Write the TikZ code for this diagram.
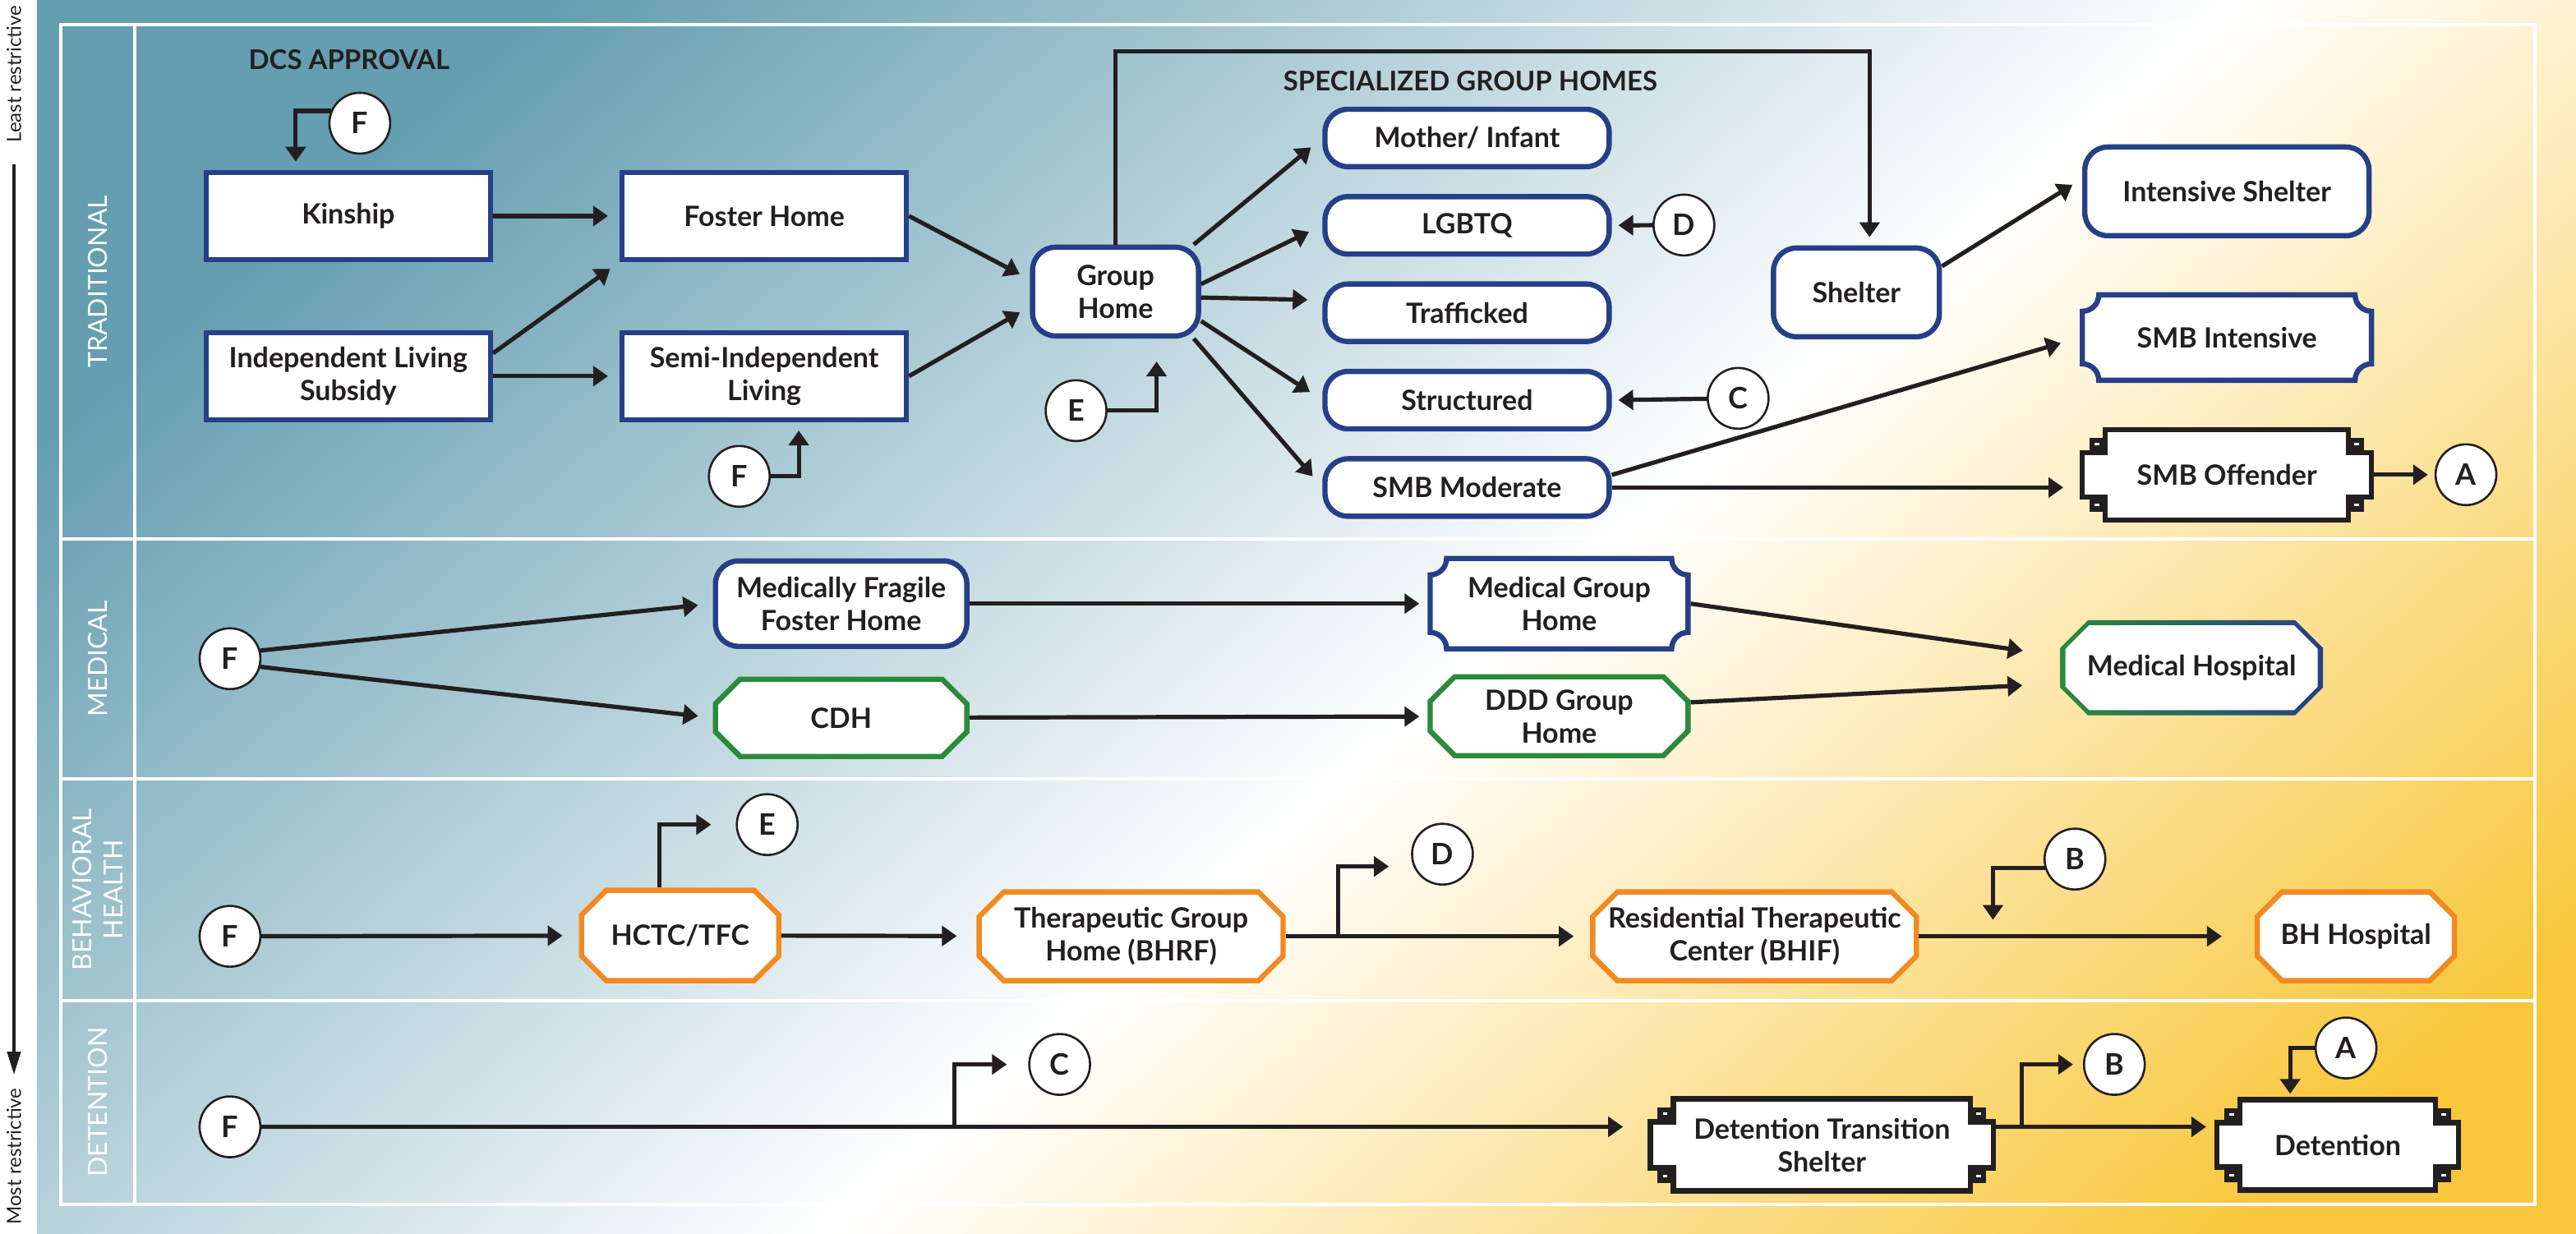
\documentclass[tikz,border=0pt]{standalone}
\usepackage{fontspec}
\setmainfont{Lato}
\usetikzlibrary{positioning,arrows.meta}

\definecolor{navyb}{HTML}{263F87}
\definecolor{greenb}{HTML}{2C8A3C}
\definecolor{orangeb}{HTML}{F18A21}
\definecolor{inkc}{HTML}{231F20}
\definecolor{tealbg}{HTML}{649EB0}
\definecolor{goldbg}{HTML}{F8C73B}

\pgfdeclarehorizontalshading{panelshade}{100bp}{color(0bp)=(tealbg); color(33bp)=(tealbg); color(51bp)=(white); color(66bp)=(goldbg); color(100bp)=(goldbg)}

% node outlines: cut corners, hollow corners, key corners
\makeatletter
\newdimen\shpxa \newdimen\shpya \newdimen\shpxb \newdimen\shpyb
\newdimen\shpc \newdimen\shpbx \newdimen\shpby \newdimen\shpbz \newdimen\shpbw
\pgfkeys{/pgf/corner size/.initial=8pt}
\def\shp@frame{%
  \southwest \shpxa=\pgf@x \shpya=\pgf@y
  \northeast \shpxb=\pgf@x \shpyb=\pgf@y
  \pgfmathsetlength\pgf@xc{\pgfkeysvalueof{/pgf/outer xsep}}%
  \pgfmathsetlength\pgf@yc{\pgfkeysvalueof{/pgf/outer ysep}}%
  \advance\shpxa by\pgf@xc \advance\shpxb by-\pgf@xc
  \advance\shpya by\pgf@yc \advance\shpyb by-\pgf@yc
  \pgfmathsetlength\shpc{\pgfkeysvalueof{/pgf/corner size}}}
\def\shp@pt#1#2{\pgfqpoint{\dimexpr#1\relax}{\dimexpr#2\relax}}
\pgfdeclareshape{octo}{%
  \inheritsavedanchors[from=rectangle]%
  \inheritanchorborder[from=rectangle]%
  \inheritanchor[from=rectangle]{center}%
  \inheritanchor[from=rectangle]{north}%
  \inheritanchor[from=rectangle]{south}%
  \inheritanchor[from=rectangle]{east}%
  \inheritanchor[from=rectangle]{west}%
  \inheritanchor[from=rectangle]{north east}%
  \inheritanchor[from=rectangle]{north west}%
  \inheritanchor[from=rectangle]{south east}%
  \inheritanchor[from=rectangle]{south west}%
  \backgroundpath{%
    \shp@frame
    \pgfpathmoveto{\shp@pt{\shpxa+\shpc}{\shpya}}%
    \pgfpathlineto{\shp@pt{\shpxb-\shpc}{\shpya}}%
    \pgfpathlineto{\shp@pt{\shpxb}{\shpya+\shpc}}%
    \pgfpathlineto{\shp@pt{\shpxb}{\shpyb-\shpc}}%
    \pgfpathlineto{\shp@pt{\shpxb-\shpc}{\shpyb}}%
    \pgfpathlineto{\shp@pt{\shpxa+\shpc}{\shpyb}}%
    \pgfpathlineto{\shp@pt{\shpxa}{\shpyb-\shpc}}%
    \pgfpathlineto{\shp@pt{\shpxa}{\shpya+\shpc}}%
    \pgfpathclose}%
}
\pgfdeclareshape{scallop}{%
  \inheritsavedanchors[from=rectangle]%
  \inheritanchorborder[from=rectangle]%
  \inheritanchor[from=rectangle]{center}%
  \inheritanchor[from=rectangle]{north}%
  \inheritanchor[from=rectangle]{south}%
  \inheritanchor[from=rectangle]{east}%
  \inheritanchor[from=rectangle]{west}%
  \inheritanchor[from=rectangle]{north east}%
  \inheritanchor[from=rectangle]{north west}%
  \inheritanchor[from=rectangle]{south east}%
  \inheritanchor[from=rectangle]{south west}%
  \backgroundpath{%
    \shp@frame
    \pgfpathmoveto{\shp@pt{\shpxa+\shpc}{\shpya}}%
    \pgfpathlineto{\shp@pt{\shpxb-\shpc}{\shpya}}%
    \pgfpatharc{180}{90}{\the\shpc}%
    \pgfpathlineto{\shp@pt{\shpxb}{\shpyb-\shpc}}%
    \pgfpatharc{270}{180}{\the\shpc}%
    \pgfpathlineto{\shp@pt{\shpxa+\shpc}{\shpyb}}%
    \pgfpatharc{0}{-90}{\the\shpc}%
    \pgfpathlineto{\shp@pt{\shpxa}{\shpya+\shpc}}%
    \pgfpatharc{90}{0}{\the\shpc}%
    \pgfpathclose}%
}
\pgfdeclareshape{keyrect}{%
  \inheritsavedanchors[from=rectangle]%
  \inheritanchorborder[from=rectangle]%
  \inheritanchor[from=rectangle]{center}%
  \inheritanchor[from=rectangle]{north}%
  \inheritanchor[from=rectangle]{south}%
  \inheritanchor[from=rectangle]{east}%
  \inheritanchor[from=rectangle]{west}%
  \inheritanchor[from=rectangle]{north east}%
  \inheritanchor[from=rectangle]{north west}%
  \inheritanchor[from=rectangle]{south east}%
  \inheritanchor[from=rectangle]{south west}%
  \backgroundpath{%
    \shp@frame
    \shpbx=0.86\shpc \shpby=0.43\shpc \shpbz=0.47\shpc \shpbw=0.81\shpc
    \pgfpathmoveto{\shp@pt{\shpxa+\shpc}{\shpyb}}%
    \pgfpathlineto{\shp@pt{\shpxb-\shpc}{\shpyb}}%
    \pgfpathlineto{\shp@pt{\shpxb-\shpc}{\shpyb-\shpc}}%
    \pgfpathlineto{\shp@pt{\shpxb}{\shpyb-\shpc}}%
    \pgfpathlineto{\shp@pt{\shpxb}{\shpya+\shpc}}%
    \pgfpathlineto{\shp@pt{\shpxb-\shpc}{\shpya+\shpc}}%
    \pgfpathlineto{\shp@pt{\shpxb-\shpc}{\shpya}}%
    \pgfpathlineto{\shp@pt{\shpxa+\shpc}{\shpya}}%
    \pgfpathlineto{\shp@pt{\shpxa+\shpc}{\shpya+\shpc}}%
    \pgfpathlineto{\shp@pt{\shpxa}{\shpya+\shpc}}%
    \pgfpathlineto{\shp@pt{\shpxa}{\shpyb-\shpc}}%
    \pgfpathlineto{\shp@pt{\shpxa+\shpc}{\shpyb-\shpc}}%
    \pgfpathclose
    \pgfpathrectanglecorners{\shp@pt{\shpxb-\shpbx}{\shpyb-\shpbw}}{\shp@pt{\shpxb-\shpby}{\shpyb-\shpbz}}%
    \pgfpathrectanglecorners{\shp@pt{\shpxa+\shpby}{\shpyb-\shpbw}}{\shp@pt{\shpxa+\shpbx}{\shpyb-\shpbz}}%
    \pgfpathrectanglecorners{\shp@pt{\shpxb-\shpbx}{\shpya+\shpbz}}{\shp@pt{\shpxb-\shpby}{\shpya+\shpbw}}%
    \pgfpathrectanglecorners{\shp@pt{\shpxa+\shpby}{\shpya+\shpbz}}{\shp@pt{\shpxa+\shpbx}{\shpya+\shpbw}}}%
}
\makeatother

\newcommand\boxfont{\bfseries\fontsize{17}{20}\selectfont}
\newcommand\letterfont{\bfseries\fontsize{18}{20}\selectfont}
\newcommand\rowfont{\fontsize{16}{19}\selectfont}
\newcommand\headfont{\bfseries\fontsize{16.5}{19}\selectfont}
\newcommand\sidefont{\fontsize{12}{14}\selectfont}

\tikzset{plainbox/.style={rectangle,draw=navyb,fill=white,line width=3.2pt,text=inkc,align=center,inner sep=2pt,font=\boxfont,minimum width=173pt,minimum height=53pt},
	 roundbox/.style={plainbox,rounded corners=14pt},
	 scallopbox/.style={plainbox,shape=scallop,corner size=10pt},
	 greenoct/.style={plainbox,shape=octo,draw=greenb,corner size=15pt},
	 orangeoct/.style={plainbox,shape=octo,draw=orangeb,corner size=15pt},
	 keybox/.style={plainbox,shape=keyrect,draw=inkc,corner size=14pt},
	 letter/.style={circle,draw=inkc,fill=white,line width=1.3pt,minimum size=37pt,inner sep=0pt,text=inkc,font=\letterfont},
	 link/.style={draw=inkc,line width=2.6pt,-{Triangle[length=9pt,width=12pt]},shorten >=7pt},
	 rowline/.style={draw=white,line width=2pt},
	 rowlabel/.style={rotate=90,text=white,font=\rowfont,align=center},
	 head/.style={text=inkc,font=\headfont},
	 sidetext/.style={rotate=90,text=inkc,font=\sidefont,inner sep=0pt}
	 }

\begin{document}
\begin{tikzpicture}[x=1pt,y=-1pt] % placement settings, least to most restrictive
	\useasboundingbox (0,0) rectangle (1568,751);
	\fill[white] (0,0) rectangle (22.5,751);
	\begin{scope}
		\clip (22.5,0) rectangle (1568,751);
		\shade[shading=panelshade,shading angle=-49] (-63,-565) rectangle (1817,1315);
	\end{scope}
	\draw[rowline] (37,15) rectangle (1543,733);
	\draw[rowline] (82,15) -- (82,733);
	\foreach \yy in {328,474,609} \draw[rowline] (37,\yy) -- (1543,\yy);

	% restrictiveness scale
	\node[sidetext] (least) at (8.5,45) {Least restrictive};
	\node[sidetext] (most) at (8.5,704) {Most restrictive};
	\draw[draw=inkc,line width=2pt,-{Triangle[length=14pt,width=8pt]},shorten <=13pt,shorten >=8pt] (least) -- (most);

	% row labels
	\node[rowlabel] (ltrad) at (59.5,171.5) {TRADITIONAL};
	\node[rowlabel] (lmed) at (59.5,401) {MEDICAL};
	\node[rowlabel] (lbh) at (59.5,541.5) {BEHAVIORAL\\HEALTH};
	\node[rowlabel] (ldet) at (59.5,671) {DETENTION};

	% traditional
	\node[head] (dcs) at (212.5,36.5) {DCS APPROVAL};
	\node[head] (sgh) at (895,49.5) {SPECIALIZED GROUP HOMES};
	\node[plainbox] (kin) at (212,131.5) {Kinship};
	\node[plainbox] (ils) at (212,229) {Independent Living\\Subsidy};
	\node[plainbox] (fh) [right=77pt of kin] {Foster Home};
	\node[plainbox] (semi) [right=77pt of ils] {Semi-Independent\\Living};
	\node[roundbox,minimum width=101pt,minimum height=54pt] (gh) at (679,177.5) {Group\\Home};
	\node[roundbox,minimum height=35pt] (mi) at (893,84) {Mother/ Infant};
	\node[roundbox,minimum height=35pt] (lg) [below=15pt of mi] {LGBTQ};
	\node[roundbox,minimum height=35pt] (tr) [below=15pt of lg] {Trafficked};
	\node[roundbox,minimum height=35pt] (st) [below=15pt of tr] {Structured};
	\node[roundbox,minimum height=35pt] (smbm) [below=15pt of st] {SMB Moderate};
	\node[roundbox,minimum width=101pt,minimum height=54pt] (sh) at (1130,178) {Shelter};
	\node[roundbox,minimum height=54pt] (ish) at (1355.5,116.5) {Intensive Shelter};
	\node[scallopbox,minimum width=176pt,minimum height=52pt] (smbi) at (1355.5,205.5) {SMB Intensive};
	\node[keybox,minimum width=176pt,minimum height=55pt] (smbo) at (1355.5,289) {SMB Offender};
	\node[letter] (f1) at (219,75) {F};
	\node[letter] (f2) at (450,290) {F};
	\node[letter] (e1) at (655,250) {E};
	\node[letter] (d1) at (1025,137) {D};
	\node[letter] (c1) at (1058,242.5) {C};
	\node[letter] (a1) at (1501,289) {A};
	\draw[link,shorten >=5pt] (f1.157) -| ([xshift=-32pt]kin.north);
	\draw[link] (kin) -- (fh);
	\draw[link] (ils.9) -- (fh.south west);
	\draw[link] (ils) -- (semi);
	\draw[link,shorten >=5pt] (f2.east) -| ([xshift=21pt]semi.south);
	\draw[link] (fh.east) -- (gh.172);
	\draw[link] (semi.east) -- (gh.190);
	\draw[link,shorten >=14pt] (e1.east) -| ([xshift=25pt]gh.south);
	\draw[link,shorten >=9pt] (gh.31) -- (mi.west);
	\draw[link,shorten >=9pt] (gh.5) -- (lg.west);
	\draw[link,shorten >=9pt] (gh.-4) -- (tr.175);
	\draw[link,shorten >=9pt] (gh.-19) -- (st.west);
	\draw[link,shorten >=9pt] (gh.-31) -- (smbm.west);
	\draw[link,shorten >=4pt] (d1) -- (lg.east);
	\draw[link,shorten >=4pt] (c1) -- (st.east);
	\draw[link,shorten >=5pt] (gh.north) -- ++(0,-117.5) -| ([xshift=8pt]sh.north);
	\draw[link] (sh.17) -- (ish.175);
	\draw[link,shorten >=12pt] (smbm.5) -- (smbi.west);
	\draw[link,shorten >=10pt] (smbm.east) -- (smbm.east -| smbo.west);
	\draw[link,shorten >=4pt] (smbo.east) -- (a1);

	% medical
	\node[letter] (f3) at (140,401) {F};
	\node[roundbox,minimum width=153pt,minimum height=52pt] (mffh) at (512,367.5) {Medically Fragile\\Foster Home};
	\node[greenoct,minimum width=153pt,minimum height=47pt] (cdh) at (512,437) {CDH};
	\node[scallopbox,minimum width=157pt,minimum height=55pt] (mgh) at (949,367.5) {Medical Group\\Home};
	\node[greenoct,minimum width=157pt,minimum height=48pt] (ddd) at (949,436) {DDD Group\\Home};
	\node[shape=octo,left color=greenb,right color=navyb,minimum width=160pt,minimum height=58pt,corner size=17pt,outer sep=0pt] (medring) at (1334,406.5) {};
	\node[shape=octo,fill=white,minimum width=153.6pt,minimum height=51.6pt,corner size=14.4pt,text=inkc,font=\boxfont] (medh) at (medring) {Medical Hospital};
	\draw[link,shorten >=9pt] (f3.15) -- (mffh.west);
	\draw[link,shorten >=9pt] (f3.-15) -- (cdh.west);
	\draw[link,shorten >=5pt] (mffh) -- (mgh);
	\draw[link,shorten >=5pt] (cdh) -- (ddd);
	\draw[link,shorten >=26pt] (mgh.east) -- (medh.175);
	\draw[link,shorten >=26pt] (ddd.6) -- (medh.187);

	% behavioral health
	\node[letter] (f4) at (140,570) {F};
	\node[orangeoct,minimum width=120pt,minimum height=55pt] (hctc) at (414,569.5) {HCTC/TFC};
	\node[orangeoct,minimum width=185pt,minimum height=54pt] (tgh) at (688.5,570) {Therapeutic Group\\Home (BHRF)};
	\node[orangeoct,minimum width=197pt,minimum height=54pt] (rtc) at (1068,570) {Residential Therapeutic\\Center (BHIF)};
	\node[orangeoct,minimum width=120pt,minimum height=54pt] (bhh) at (1434,570) {BH Hospital};
	\node[letter] (e2) at (467,502) {E};
	\node[letter] (d2) at (878,520) {D};
	\node[letter] (b1) at (1263,523) {B};
	\coordinate (tghfork) at ([xshift=32pt]tgh.east);
	\coordinate (rtcfork) at ([xshift=45pt]rtc.east);
	\draw[link,shorten >=10pt] (f4) -- (hctc);
	\draw[link,shorten >=15pt] ([xshift=-12.5pt]hctc.north) |- (e2.west);
	\draw[link,shorten >=12pt] (hctc) -- (tgh);
	\draw[link,shorten >=10pt] (tgh) -- (rtc);
	\draw[link,shorten >=15pt] (tghfork) |- (d2.203);
	\draw[link,shorten >=20pt] (rtc) -- (bhh);
	\draw[link,shorten >=10pt] (b1.197) -| (rtcfork);

	% detention
	\node[letter] (f5) at (140,686) {F};
	\node[keybox,minimum width=209pt,minimum height=56pt] (dts) at (1109,697) {Detention Transition\\Shelter};
	\node[keybox,minimum width=147pt,minimum height=55pt] (det) at (1423,697) {Detention};
	\node[letter] (c2) at (645,648) {C};
	\node[letter] (b2) at (1287,648) {B};
	\node[letter] (a2) at (1428,638) {A};
	\coordinate (cfork) at (581,686);
	\coordinate (bfork) at (1230.5,686);
	\draw[link,shorten >=15pt] (f5) -- (f5 -| dts.west);
	\draw[link,shorten >=13pt] (cfork) |- (c2.west);
	\draw[link,shorten >=5pt] (f5 -| dts.east) -- (f5 -| det.west);
	\draw[link,shorten >=6pt] (bfork) |- (b2.west);
	\draw[link,shorten >=2pt] (a2.west) -| ([xshift=-29pt]det.north);
\end{tikzpicture}
\end{document}
